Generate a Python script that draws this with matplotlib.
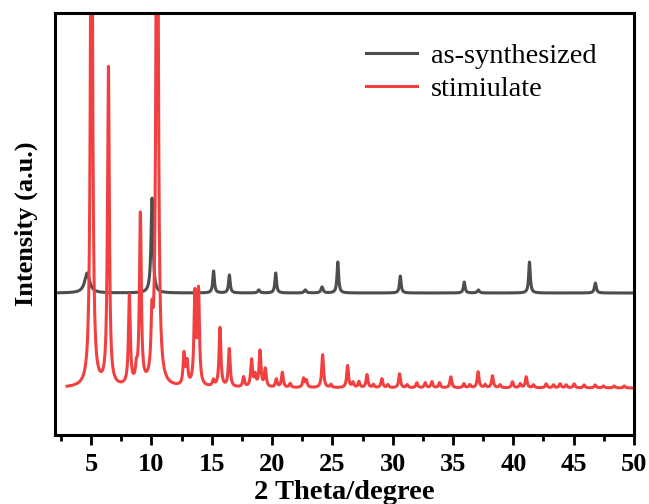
import numpy as np
import matplotlib
matplotlib.use("Agg")
import matplotlib.pyplot as plt
from matplotlib.ticker import MultipleLocator

plt.rcParams["font.family"] = ["Liberation Serif", "DejaVu Serif"]

# peak lists (2 theta, height above baseline)
synth_pos = [4.67, 10.05, 15.15, 16.46, 18.9, 20.3, 22.75, 24.14, 25.45,
             30.63, 35.93, 37.1, 41.34, 46.8]
synth_height = [20, 95, 22, 18, 3, 20, 3, 6, 31, 17, 11, 3, 31, 10]
synth_width = [0.25, 0.10, 0.08, 0.08, 0.10, 0.08, 0.10, 0.10, 0.08,
               0.08, 0.08, 0.10, 0.08, 0.09]
synth_base = 142

sim_pos = [5.03, 6.43, 8.17, 8.75, 9.08, 10.04, 10.47, 12.70, 12.95, 13.60,
           13.90, 15.13, 15.68, 16.45, 17.64, 18.30, 18.60, 19.00, 19.44,
           20.35, 20.85, 21.50, 22.60, 22.84, 24.19, 24.88, 26.26, 26.70,
           27.20, 27.87, 28.40, 29.10, 29.60, 30.57, 31.20, 32.00, 32.70,
           33.25, 33.88, 34.82, 35.90, 36.40, 37.08, 37.67, 38.27, 38.90,
           39.93, 40.57, 41.07, 41.67, 42.72, 43.33, 43.88, 44.38, 45.04,
           45.87, 46.78, 47.47, 48.36, 49.20]
sim_height = [700, 318, 89, 13, 170, 52, 800, 31, 22, 90,
              93, 6, 59, 38, 10, 27, 11, 36, 18,
              8, 15, 4, 9, 7, 33, 3, 22, 5,
              6, 13, 3, 9, 3, 14, 3, 5, 5,
              6, 5, 11, 4, 3, 16, 3, 12, 3,
              6, 4, 11, 3, 4, 3, 4, 3, 4,
              3, 3, 2, 2, 2]
sim_width = 0.09
sim_base = 47


def pattern(x, pos, height, width, base):
    y = np.full_like(x, base, dtype=float)
    width = np.broadcast_to(width, len(pos))
    for p, h, w in zip(pos, height, width):
        y += h * w ** 2 / ((x - p) ** 2 + w ** 2)
    return y


x_synth = np.linspace(2, 50, 4000)
x_sim = np.linspace(3, 50, 4000)

fig = plt.figure(figsize=(6.49, 5.04), dpi=100)
ax = fig.add_axes([0.0847, 0.1369, 0.8921, 0.8373])

ax.plot(x_synth, pattern(x_synth, synth_pos, synth_height, synth_width, synth_base),
        color="#4d4d4d", lw=2.2, label="as-synthesized")
ax.plot(x_sim, pattern(x_sim, sim_pos, sim_height, sim_width, sim_base),
        color="#f24040", lw=2.2, label="stimiulate")

ax.set_xlim(2, 50)
ax.set_ylim(0, 422)
ax.xaxis.set_major_locator(MultipleLocator(5))
ax.xaxis.set_minor_locator(MultipleLocator(2.5))
ax.set_yticks([])
ax.tick_params(axis="x", which="major", direction="out", length=7, width=2,
               labelsize=19, pad=6)
ax.tick_params(axis="x", which="minor", direction="out", length=4, width=2)
for lab in ax.get_xticklabels():
    lab.set_fontweight("bold")
for sp in ax.spines.values():
    sp.set_linewidth(2.2)

ax.set_xlabel("2 Theta/degree", fontsize=20.5, fontweight="bold", labelpad=3)
ax.set_ylabel("Intensity (a.u.)", fontsize=19, fontweight="bold", labelpad=12)

ax.legend(loc="upper right", bbox_to_anchor=(0.98, 0.99), frameon=False,
          fontsize=20.5, handlelength=1.8, handletextpad=0.5, labelspacing=0.25)

plt.savefig("out.png", dpi=100)
plt.close()
